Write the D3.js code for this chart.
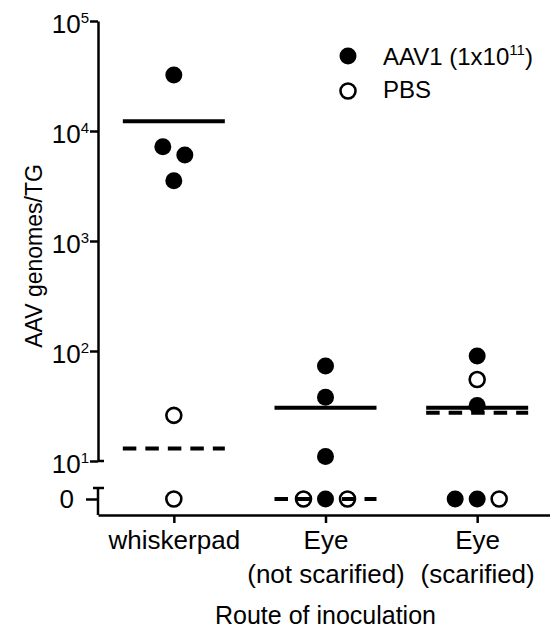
<!DOCTYPE html>
<html>
<head>
<meta charset="utf-8">
<script src="https://cdn.jsdelivr.net/npm/d3@7"></script>
<style>
  body { margin: 0; background: #fff; }
  svg { font-family: "Liberation Sans", Arial, sans-serif; }
</style>
</head>
<body>
<svg id="chart" width="550" height="631"></svg>
<script>
// Data
const categories = ["whiskerpad", "Eye (not scarified)", "Eye (scarified)"];
const categoryLines = [["whiskerpad"], ["Eye", "(not scarified)"], ["Eye", "(scarified)"]];
const aav1Values = [[32300, 7200, 6060, 3530], [73, 38, 11, 0], [90, 32, 0, 0]];
const pbsValues = [[26, 0], [0, 0], [55, 0]];
const yTickExponents = [1, 2, 3, 4, 5];
const seriesNames = ["AAV1 (1x10", "PBS"];

const svg = d3.select("#chart");

// scales
const y = d3.scaleLog().domain([10, 1e5]).range([461, 21]);
const yZero = d3.scalePoint().domain([0]).range([488, 510]).padding(0.5);
const x = d3.scalePoint().domain(categories).range([98, 553]).padding(0.5);
const axisX = 98, axisBottom = 515;
const yPos = v => v === 0 ? yZero(0) : y(v);

// upper y axis (log part)
const gy = svg.append("g").attr("transform", `translate(${axisX},0)`)
    .call(d3.axisLeft(y).tickValues(yTickExponents.map(e => Math.pow(10, e)))
        .tickSize(8).tickSizeOuter(0).tickFormat(() => ""));
gy.select(".domain").attr("stroke-width", 2.5);
gy.selectAll(".tick line").attr("stroke-width", 2.5);
gy.selectAll(".tick text").remove();
gy.selectAll(".tick").each(function(d) {
    const t = d3.select(this).append("text")
        .attr("x", -9).attr("y", 11)
        .attr("text-anchor", "end")
        .attr("fill", "#000");
    t.append("tspan").attr("font-size", 26).text("10");
    t.append("tspan").attr("font-size", 15).attr("dy", -10).text(Math.round(Math.log10(d)));
});
// break caps
svg.append("line").attr("x1", axisX).attr("x2", axisX + 6)
    .attr("y1", y(10)).attr("y2", y(10)).attr("stroke", "#000").attr("stroke-width", 2.5);

// lower y axis (zero part)
const gz = svg.append("g").attr("transform", `translate(${axisX},0)`)
    .call(d3.axisLeft(yZero).tickSize(12).tickSizeOuter(0).tickFormat(d => d));
gz.select(".domain").remove();
gz.selectAll(".tick line").attr("stroke-width", 2.5);
gz.selectAll(".tick text").attr("font-size", 26).attr("x", -24).attr("dy", "0.32em").attr("fill", "#000");
svg.append("line").attr("x1", axisX).attr("x2", axisX)
    .attr("y1", 488).attr("y2", axisBottom).attr("stroke", "#000").attr("stroke-width", 2.5);
svg.append("line").attr("x1", axisX - 5).attr("x2", axisX + 6)
    .attr("y1", 488).attr("y2", 488).attr("stroke", "#000").attr("stroke-width", 2.5);

// x axis
const gx = svg.append("g").attr("transform", `translate(0,${axisBottom})`)
    .call(d3.axisBottom(x).tickSize(8).tickSizeOuter(0).tickFormat(() => ""));
gx.select(".domain").attr("stroke-width", 2.5);
gx.selectAll(".tick line").attr("stroke-width", 2.5);
gx.selectAll(".tick text").remove();
gx.selectAll(".tick").each(function(d, i) {
    const t = d3.select(this).append("text")
        .attr("text-anchor", "middle").attr("font-size", 26).attr("fill", "#000");
    categoryLines[i].forEach((line, j) => {
        t.append("tspan").attr("x", 0).attr("y", 34 + j * 34).text(line);
    });
});

// axis titles
svg.append("text")
    .attr("x", x(categories[1])).attr("y", 624)
    .attr("text-anchor", "middle").attr("font-size", 25)
    .text("Route of inoculation");

svg.append("text")
    .attr("transform", "translate(42,256) rotate(-90)")
    .attr("text-anchor", "middle").attr("font-size", 23)
    .text("AAV genomes/TG");

// mean lines
const halfLine = 51;
categories.forEach((c, i) => {
    [aav1Values[i], pbsValues[i]].forEach((vals, s) => {
        const m = d3.mean(vals);
        svg.append("line")
            .attr("x1", x(c) - halfLine).attr("x2", x(c) + halfLine)
            .attr("y1", yPos(m)).attr("y2", yPos(m))
            .attr("stroke", "#000").attr("stroke-width", 4)
            .attr("stroke-dasharray", s === 1 ? "13.5,9" : null);
    });
});

// points, spread side by side where they overlap
const step = 22;
categories.forEach((c, i) => {
    const pts = [];
    aav1Values[i].forEach(v => pts.push({v, s: 0}));
    pbsValues[i].forEach(v => pts.push({v, s: 1}));
    pts.forEach((p, k) => { p.k = k; p.py = yPos(p.v); });

    const sorted = pts.slice().sort((a, b) => a.py - b.py);
    const rows = [];
    sorted.forEach(p => {
        const last = rows[rows.length - 1];
        if (last && p.py - last[last.length - 1].py < 17) last.push(p);
        else rows.push([p]);
    });
    rows.forEach(row => {
        row.sort((a, b) => a.k - b.k);
        const n = row.length;
        const slots = d3.range(n).map(j => (j - (n - 1) / 2) * step)
            .sort((a, b) => Math.abs(a) - Math.abs(b) || a - b);
        row.forEach((p, j) => { p.px = x(c) + slots[j]; });
    });

    svg.append("g").selectAll("circle")
        .data(pts)
        .enter().append("circle")
        .attr("cx", d => d.px)
        .attr("cy", d => d.py)
        .attr("r", d => d.s === 0 ? 8.5 : 7.5)
        .attr("fill", d => d.s === 0 ? "#000" : "none")
        .attr("stroke", d => d.s === 0 ? "none" : "#000")
        .attr("stroke-width", 2.6);
});

// legend
const legend = svg.append("g").attr("transform", "translate(348,56)");
seriesNames.forEach((name, i) => {
    legend.append("circle")
        .attr("cx", 0).attr("cy", i * 35)
        .attr("r", i === 0 ? 8.5 : 7.5)
        .attr("fill", i === 0 ? "#000" : "none")
        .attr("stroke", i === 0 ? "none" : "#000")
        .attr("stroke-width", 2.6);
    const t = legend.append("text")
        .attr("x", 35).attr("y", i * 33 + 9)
        .attr("font-size", 24);
    t.append("tspan").text(name);
    if (i === 0) {
        t.append("tspan").attr("font-size", 15).attr("dy", -10).text("11");
        t.append("tspan").attr("dy", 10).text(")");
    }
});
</script>
</body>
</html>
